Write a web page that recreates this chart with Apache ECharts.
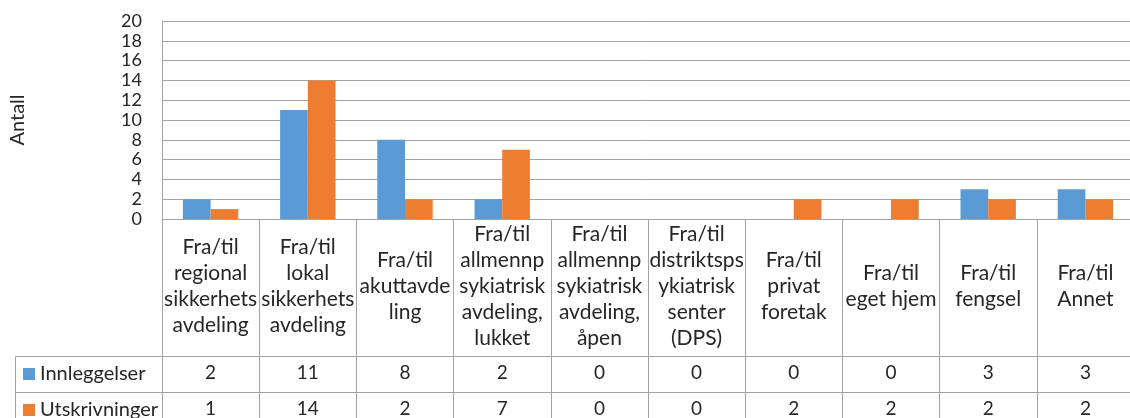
<!DOCTYPE html>
<html>
<head>
<meta charset="utf-8">
<script src="https://cdn.jsdelivr.net/npm/echarts@6/dist/echarts.min.js"></script>
<style>
  html, body { margin: 0; padding: 0; background: #fff; }
  #chart { width: 1130px; height: 418px; }
</style>
</head>
<body>
<div id="chart"></div>
<script>
// kategorier (med linjeskift som i tabellen)
var categories = [
  'Fra/til\nregional\nsikkerhets\navdeling',
  'Fra/til\nlokal\nsikkerhets\navdeling',
  'Fra/til\nakuttavde\nling',
  'Fra/til\nallmennp\nsykiatrisk\navdeling,\nlukket',
  'Fra/til\nallmennp\nsykiatrisk\navdeling,\nåpen',
  'Fra/til\ndistriktsps\nykiatrisk\nsenter\n(DPS)',
  'Fra/til\nprivat\nforetak',
  'Fra/til\neget hjem',
  'Fra/til\nfengsel',
  'Fra/til\nAnnet'
];
var innleggelser = [2, 11, 8, 2, 0, 0, 0, 0, 3, 3];
var utskrivninger = [1, 14, 2, 7, 0, 0, 2, 2, 2, 2];
var seriesNames = ['Innleggelser', 'Utskrivninger'];
var colors = ['#5B9BD5', '#ED7D31'];

var FONT = 'Lato';
var TXT = '#262626';
var LINE = '#a3a3a3';

var chart = echarts.init(document.getElementById('chart'));

function tableAxis(values, offset) {
  return {
    type: 'category',
    position: 'bottom',
    data: categories,
    offset: offset,
    axisLine: { show: true, lineStyle: { color: LINE, width: 1 } },
    axisTick: { show: true, length: 36, lineStyle: { color: LINE, width: 1 } },
    axisLabel: {
      interval: 0,
      margin: 17,
      verticalAlign: 'middle',
      fontFamily: FONT,
      fontSize: 19,
      color: TXT,
      formatter: function (v, i) { return String(values[i]); }
    }
  };
}

function legendRow(name, top) {
  return {
    left: 23,
    top: top,
    padding: 0,
    icon: 'rect',
    itemWidth: 12,
    itemHeight: 12,
    data: [name],
    selectedMode: false,
    textStyle: { fontFamily: FONT, fontSize: 20, lineHeight: 20, color: TXT }
  };
}

chart.setOption({
  animation: false,
  color: colors,
  textStyle: { fontFamily: FONT },
  grid: { left: 162, top: 21, width: 972, height: 198, outerBoundsMode: 'none', containLabel: false },
  legend: [legendRow(seriesNames[0], 364), legendRow(seriesNames[1], 400)],
  yAxis: {
    type: 'value',
    min: 0,
    max: 20,
    interval: 2,
    name: 'Antall',
    nameLocation: 'middle',
    nameRotate: 90,
    nameGap: 134,
    nameTextStyle: { fontFamily: FONT, fontSize: 20, color: TXT },
    axisLine: { show: true, lineStyle: { color: LINE, width: 1 } },
    axisTick: { show: false },
    splitLine: { lineStyle: { color: LINE, width: 1 } },
    axisLabel: {
      margin: 20, showMinLabel: true, showMaxLabel: true, hideOverlap: false,
      fontFamily: FONT, fontSize: 18, lineHeight: 18, color: TXT
    }
  },
  xAxis: [
    {
      type: 'category',
      data: categories,
      axisLine: { show: true, lineStyle: { color: LINE, width: 1 } },
      axisTick: { show: true, length: 137, lineStyle: { color: LINE, width: 1 } },
      axisLabel: {
        interval: 0,
        margin: 67,
        verticalAlign: 'middle',
        lineHeight: 26,
        fontFamily: FONT,
        fontSize: 21,
        color: TXT
      }
    },
    tableAxis(innleggelser, 137),
    tableAxis(utskrivninger, 173)
  ],
  graphic: [
    { type: 'line', shape: { x1: 15.5, y1: 356.5, x2: 162, y2: 356.5 }, style: { stroke: LINE, lineWidth: 1 } },
    { type: 'line', shape: { x1: 15.5, y1: 392.5, x2: 162, y2: 392.5 }, style: { stroke: LINE, lineWidth: 1 } },
    { type: 'line', shape: { x1: 15.5, y1: 356.5, x2: 15.5, y2: 430 }, style: { stroke: LINE, lineWidth: 1 } }
  ],
  series: [
    { name: seriesNames[0], type: 'bar', data: innleggelser, barGap: 0, barCategoryGap: '43%' },
    { name: seriesNames[1], type: 'bar', data: utskrivninger, barGap: 0, barCategoryGap: '43%' }
  ]
});
</script>
</body>
</html>
